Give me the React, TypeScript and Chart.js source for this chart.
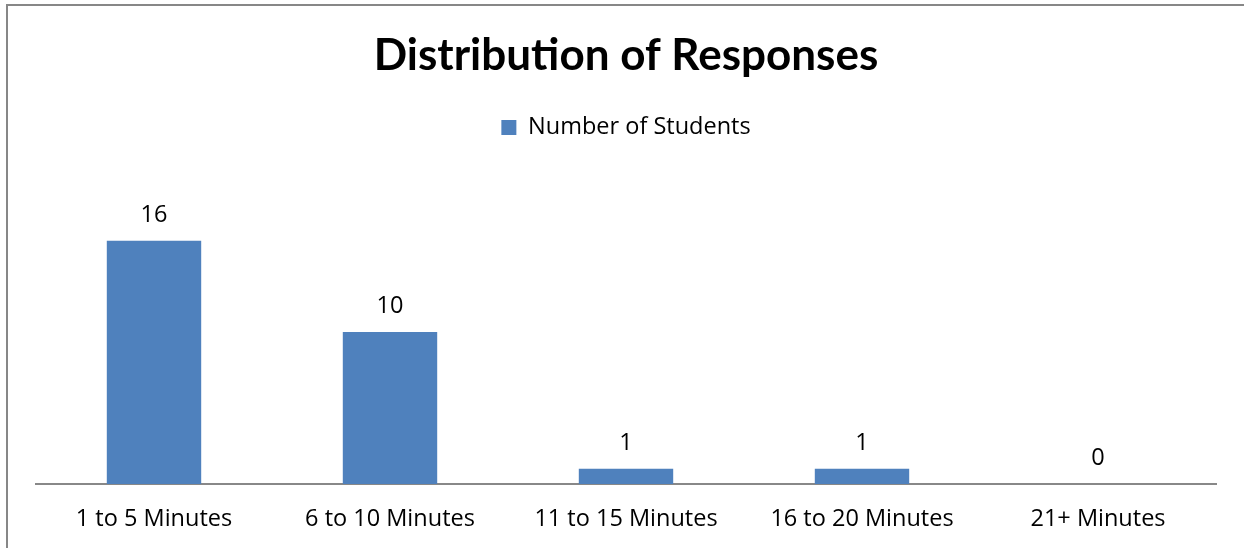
import React, { useEffect, useRef } from "react";
import { Chart, registerables } from "chart.js";

Chart.register(...registerables);

const TITLE = "Distribution of Responses";
const SERIES_NAME = "Number of Students";
const CATEGORIES = ["1 to 5 Minutes", "6 to 10 Minutes", "11 to 15 Minutes", "16 to 20 Minutes", "21+ Minutes"];
const VALUES = [16, 10, 1, 1, 0];
const Y_MAX = 18;

const TITLE_FONT = "Lato, 'Open Sans', sans-serif";
const FONT = "'Open Sans', Lato, sans-serif";
const TEXT_SIZE = 23.5;

const dataLabels = {
  id: "dataLabels",
  afterDatasetsDraw(chart: any) {
    const ctx = chart.ctx;
    const meta = chart.getDatasetMeta(0);
    ctx.save();
    ctx.font = `${TEXT_SIZE}px ${FONT}`;
    ctx.fillStyle = "#000";
    ctx.textAlign = "center";
    ctx.textBaseline = "alphabetic";
    meta.data.forEach((el: any, i: number) => {
      ctx.fillText(String(VALUES[i]), el.x, el.y - 19);
    });
    ctx.restore();
  },
};

const legendGap = {
  id: "legendGap",
  beforeInit(chart: any) {
    const legend = chart.legend;
    if (!legend) return;
    const orig = legend.fit;
    legend.fit = function () {
      orig.call(this);
      this.height += 61;
    };
  },
};

export default function App() {
  const ref = useRef<HTMLCanvasElement | null>(null);
  useEffect(() => {
    if (!ref.current) return;
    const chart = new Chart(ref.current, {
      type: "bar",
      data: {
        labels: CATEGORIES,
        datasets: [
          {
            label: SERIES_NAME,
            data: VALUES,
            backgroundColor: "#4F81BD",
            borderWidth: 0,
            categoryPercentage: 1,
            barPercentage: 0.4,
          },
        ],
      },
      options: {
        animation: false,
        responsive: false,
        maintainAspectRatio: false,
        layout: { padding: { left: 36, right: 28, top: 0, bottom: 0 } },
        plugins: {
          title: {
            display: true,
            text: TITLE,
            color: "#000",
            font: { family: TITLE_FONT, size: 44, weight: "bold", lineHeight: 1.2 },
            padding: { top: 29, bottom: 24 },
          },
          legend: {
            display: true,
            labels: {
              color: "#000",
              font: { family: FONT, size: TEXT_SIZE },
              boxWidth: 15,
              boxHeight: 15,
              padding: 10,
            },
          },
          tooltip: { enabled: false },
        },
        scales: {
          x: {
            grid: { display: false, drawTicks: false },
            border: { display: true, color: "#888888", width: 2 },
            ticks: { color: "#000", font: { family: FONT, size: TEXT_SIZE }, padding: 21, maxRotation: 0 },
            afterFit: (s: any) => {
              s.height = 64;
            },
          },
          y: {
            display: false,
            min: 0,
            max: Y_MAX,
          },
        },
      },
      plugins: [legendGap, dataLabels],
    });
    return () => chart.destroy();
  }, []);
  return (
    <div style={{ position: "fixed", left: 0, top: 0, width: 1244, height: 548, background: "#fff", overflow: "hidden" }}>
      <div
        style={{
          position: "absolute",
          left: 6,
          top: 4,
          width: 1400,
          height: 700,
          borderLeft: "2px solid #878787",
          borderTop: "2px solid #878787",
        }}
      />
      <canvas ref={ref} width={1244} height={548} style={{ position: "absolute", left: 0, top: 0 }} />
    </div>
  );
}
